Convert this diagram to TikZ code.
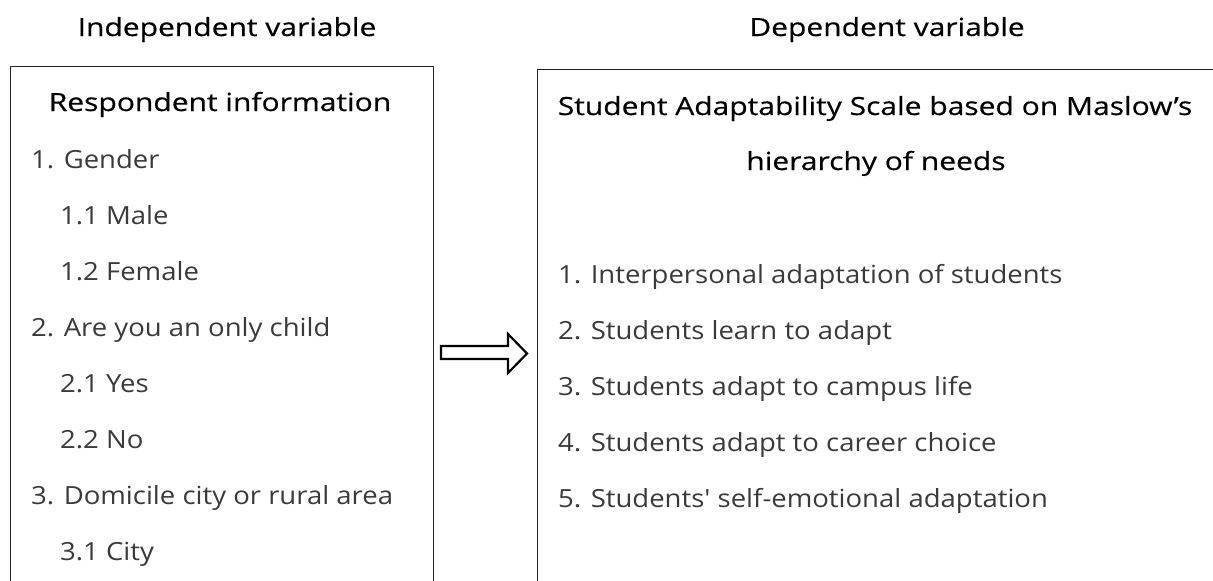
\documentclass[tikz,border=0pt]{standalone}
\usepackage{fontspec}
\newfontfamily\bodyfont[FakeStretch=1.1]{Open Sans}
\newfontfamily\titlefont[FakeStretch=1.2, FakeBold=0.5]{Open Sans}
\usetikzlibrary{positioning}
\definecolor{itemgray}{HTML}{3A3A3A}
\tikzset{
  headtext/.style={font=\titlefont\fontsize{25}{30}\selectfont, text=black, inner sep=0pt, anchor=base},
  itemtext/.style={font=\bodyfont\fontsize{25}{30}\selectfont, text=itemgray, inner sep=0pt, anchor=base west},
  varbox/.style={draw=black!85, line width=1.3pt, anchor=north west, minimum height=560pt, inner sep=0pt},
  blockarrow/.style={draw=black, line width=2.2pt, line join=miter, fill=white}
}
\begin{document}
\begin{tikzpicture}[x=1pt, y=-1pt]
\clip (0,0) rectangle (1213,581);
% headings above the boxes
\node[headtext] (indep) at (227,36) {Independent variable};
\node[headtext] (dep) at (887,36) {Dependent variable};
% the two boxes run on below the picture
\node[varbox, minimum width=423pt] (leftbox) at (10,66) {};
\node[varbox, minimum width=720pt] (rightbox) at (537,69) {};
% left box
\node[headtext] (resp) at (220,111) {Respondent information};
\foreach \n/\x/\y/\t in {
  g/31/168/{1. Gender},
  gm/60/224/{1.1 Male},
  gf/60/280/{1.2 Female},
  c/31/336/{2. Are you an only child},
  cy/60/392/{2.1 Yes},
  cn/60/448/{2.2 No},
  d/31/504/{3. Domicile city or rural area},
  dc/60/560/{3.1 City}}
  \node[itemtext] (\n) at (\x,\y) {\t};
% right box
\node[headtext] (scale1) at (875,115) {Student Adaptability Scale based on Maslow’s};
\node[headtext] (scale2) at (876,170) {hierarchy of needs};
\foreach \n/\y/\t in {
  a/283/{1. Interpersonal adaptation of students},
  b/339/{2. Students learn to adapt},
  c/395/{3. Students adapt to campus life},
  d/451/{4. Students adapt to career choice},
  e/507/{5. Students' self-emotional adaptation}}
  \node[itemtext] (s\n) at (558,\y) {\t};
% hollow arrow between the boxes
\draw[blockarrow] (441,346) -- (508,346) -- (508,334) -- (527,353.5)
  -- (508,373) -- (508,359) -- (441,359) -- cycle;
\end{tikzpicture}
\end{document}
